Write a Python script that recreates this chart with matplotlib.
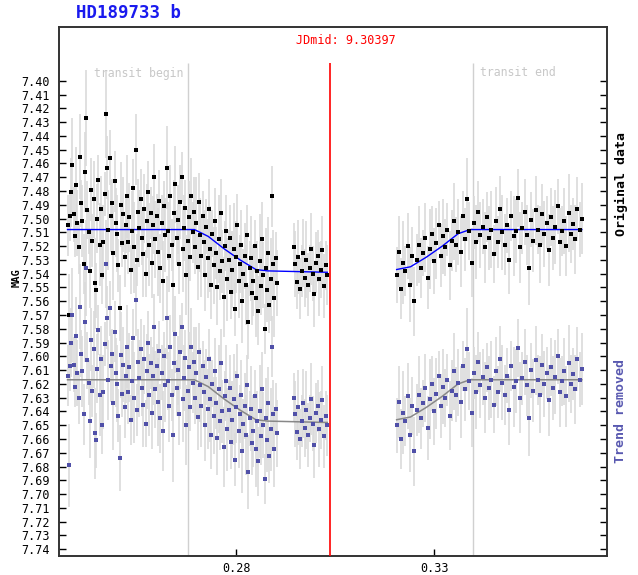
import numpy as np
import matplotlib
matplotlib.use("Agg")
import matplotlib.pyplot as plt

# ---------------- data ----------------
title = "HD189733 b"
jd_label = "JDmid: 9.30397"
x_transit_begin = 0.2678
x_mid = 0.3038
x_transit_end = 0.3398
trend_offset = 0.109   # vertical shift of the "Trend removed" copy

# observation segments (start, stop of phase)
seg1_range = (0.2375, 0.2903)
seg2_range = (0.2945, 0.3030)
seg3_range = (0.3205, 0.3672)

seg1_mag = [
    7.505, 7.570, 7.498, 7.481, 7.461, 7.497, 7.513, 7.476, 7.503, 7.521,
    7.455, 7.489, 7.502, 7.533, 7.466, 7.427, 7.494, 7.510, 7.538, 7.479,
    7.516, 7.486, 7.547, 7.552, 7.500, 7.472, 7.519, 7.493, 7.541, 7.517,
    7.482, 7.424, 7.463, 7.508, 7.456, 7.498, 7.489, 7.525, 7.473, 7.503,
    7.511, 7.534, 7.565, 7.490, 7.518, 7.497, 7.528, 7.505, 7.484, 7.517,
    7.499, 7.537, 7.509, 7.478, 7.521, 7.450, 7.530, 7.495, 7.507, 7.486,
    7.514, 7.526, 7.493, 7.540, 7.502, 7.481, 7.519, 7.496, 7.532, 7.505,
    7.470, 7.515, 7.498, 7.524, 7.487, 7.536, 7.503, 7.545, 7.491, 7.512,
    7.463, 7.509, 7.527, 7.484, 7.519, 7.548, 7.496, 7.475, 7.514, 7.501,
    7.533, 7.488, 7.470, 7.522, 7.507, 7.492, 7.541, 7.516, 7.499, 7.528,
    7.484, 7.510, 7.495, 7.521, 7.503, 7.535, 7.488, 7.512, 7.527, 7.498,
    7.517, 7.541, 7.506, 7.529, 7.493, 7.522, 7.548, 7.511, 7.534, 7.502,
    7.525, 7.550, 7.515, 7.538, 7.496, 7.531, 7.557, 7.520, 7.509, 7.544,
    7.530, 7.514, 7.553, 7.537, 7.522, 7.566, 7.528, 7.505, 7.545, 7.533,
    7.519, 7.560, 7.540, 7.527, 7.548, 7.512, 7.575, 7.536, 7.529, 7.554,
    7.545, 7.520, 7.558, 7.538, 7.567, 7.531, 7.549, 7.515, 7.541, 7.580,
    7.536, 7.552, 7.525, 7.563, 7.544, 7.484, 7.533, 7.558, 7.529, 7.547,
]
seg1_err_mmag = [
    22, 30, 18, 25, 34, 20, 15, 28, 24, 19, 31, 17, 26, 22, 29, 35, 21, 16, 27, 23,
    19, 28, 33, 20, 25, 18, 30, 24, 21, 27, 16, 32, 23, 29, 20, 26, 18, 34, 22, 25,
    28, 19, 24, 31, 17, 27, 22, 20, 30, 23, 25, 18, 29, 21, 33, 26, 19, 24, 28, 22,
    20, 31, 25, 17, 27, 23, 30, 19, 26, 21, 24, 28, 16, 32, 22, 25, 20, 29, 18, 27,
    30, 21, 26, 23, 19, 34, 24, 28, 20, 25, 22, 27, 18, 31, 24, 20, 29, 23, 26, 17,
    28, 22, 25, 19, 33, 24, 21, 27, 30, 18, 23, 26, 20, 29, 22, 31, 25, 17, 28, 24,
    19, 27, 32, 21, 25, 23, 29, 18, 26, 30, 22, 24, 20, 28, 33, 19, 26, 23, 27, 21,
    25, 30, 18, 24, 29, 22, 27, 20, 31, 23, 26, 19, 28, 22, 25, 34, 21, 27, 24, 18,
    29, 23, 26, 20, 30, 22, 25, 28, 19, 24,
]

seg2_mag = [
    7.521, 7.533, 7.546, 7.528, 7.551, 7.538, 7.525, 7.543, 7.530, 7.548, 7.536,
    7.522, 7.540, 7.555, 7.532, 7.527, 7.544, 7.537, 7.523, 7.549, 7.534, 7.541,
]
seg2_err_mmag = [18, 24, 20, 27, 22, 19, 25, 21, 28, 23, 17,
                 26, 20, 24, 22, 19, 27, 21, 25, 23, 18, 22]

seg3_mag = [
    7.541, 7.524, 7.551, 7.532, 7.538, 7.520, 7.548, 7.527, 7.560, 7.530,
    7.519, 7.536, 7.525, 7.514, 7.543, 7.522, 7.511, 7.531, 7.518, 7.505,
    7.527, 7.513, 7.521, 7.508, 7.534, 7.516, 7.502, 7.519, 7.510, 7.524,
    7.498, 7.515, 7.486, 7.509, 7.532, 7.503, 7.517, 7.495, 7.512, 7.506,
    7.521, 7.499, 7.514, 7.508, 7.526, 7.502, 7.517, 7.493, 7.510, 7.519,
    7.505, 7.530, 7.498, 7.513, 7.509, 7.485, 7.521, 7.507, 7.495, 7.512,
    7.536, 7.501, 7.516, 7.494, 7.508, 7.519, 7.497, 7.511, 7.503, 7.523,
    7.499, 7.514, 7.506, 7.491, 7.517, 7.509, 7.502, 7.520, 7.496, 7.511,
    7.504, 7.515, 7.493, 7.508, 7.500,
]
seg3_err_mmag = [
    20, 26, 22, 30, 18, 24, 27, 21, 25, 19, 28, 22, 17, 25, 23, 29, 20, 24, 26, 18,
    23, 27, 21, 19, 25, 22, 28, 20, 24, 26, 18, 23, 30, 21, 25, 19, 27, 22, 24, 20,
    26, 18, 23, 28, 21, 25, 19, 24, 27, 22, 20, 25, 18, 29, 23, 21, 26, 19, 24, 22,
    27, 20, 23, 25, 18, 28, 22, 24, 19, 26, 21, 23, 27, 20, 25, 18, 24, 22, 28, 21,
    19, 25, 23, 20, 26,
]

# fitted trend curve knots (original data)
trend_left_x = [0.2375, 0.2695, 0.2730, 0.2770, 0.2810, 0.2850, 0.2880, 0.3030]
trend_left_y = [7.508, 7.508, 7.513, 7.522, 7.530, 7.537, 7.538, 7.539]
trend_right_x = [0.3205, 0.3240, 0.3280, 0.3320, 0.3360, 0.3390, 0.3672]
trend_right_y = [7.537, 7.535, 7.528, 7.520, 7.511, 7.508, 7.508]

ytick_values = [round(7.40 + 0.01 * i, 2) for i in range(35)]
xtick_values = [0.28, 0.33]

# ---------------- assemble ----------------
xs, ys, es = [], [], []
for (a, b), m, e in [(seg1_range, seg1_mag, seg1_err_mmag),
                     (seg2_range, seg2_mag, seg2_err_mmag),
                     (seg3_range, seg3_mag, seg3_err_mmag)]:
    xs.append(np.linspace(a, b, len(m)))
    ys.append(np.array(m))
    es.append(np.array(e) / 1000.0)
x = np.concatenate(xs)
y = np.concatenate(ys)
err = np.concatenate(es)
y2 = y + trend_offset

mono = "DejaVu Sans Mono"
W, H = 638, 575
fig = plt.figure(figsize=(W / 100, H / 100), dpi=100)
ax = fig.add_axes([59 / W, 19 / H, 548 / W, 529 / H])

ax.set_xlim(0.23535, 0.37354)
ax.set_ylim(7.7449, 7.3610)

errc = "#dadada"
ax.vlines(x, y - err, y + err, color=errc, lw=1.2, zorder=1)
ax.vlines(x, y2 - err, y2 + err, color=errc, lw=1.2, zorder=1)

ax.plot(trend_left_x, trend_left_y, color="#0000ff", lw=1.0, zorder=2)
ax.plot(trend_right_x, trend_right_y, color="#0000ff", lw=1.0, zorder=2)
ax.plot(trend_left_x, np.array(trend_left_y) + trend_offset, color="#888888", lw=1.1, zorder=2)
ax.plot(trend_right_x, np.array(trend_right_y) + trend_offset, color="#888888", lw=1.1, zorder=2)

ax.plot(x, y, ls="none", marker="s", ms=3.0, mfc="black", mec="black", mew=0.0, zorder=3)
ax.plot(x, y2, ls="none", marker="s", ms=3.0, mfc="#5050a8", mec="#5050a8", mew=0.0, zorder=3)

# vertical markers
ytop_line = 7.387
ax.vlines([x_transit_begin, x_transit_end], 7.7449, ytop_line, color="#d0d0d0", lw=1.0, zorder=0)
ax.vlines([x_mid], 7.7449, ytop_line, color="#ff0000", lw=1.2, zorder=4)

fig.text(183 / W, 1 - 73 / H, "transit begin", ha="right", va="center",
         family=mono, fontsize=8.3, color="#c8c8c8")
fig.text(480 / W, 1 - 73 / H, "transit end", ha="left", va="center",
         family=mono, fontsize=8.3, color="#c8c8c8")
fig.text(346 / W, 1 - 40 / H, jd_label, ha="center", va="center",
         family=mono, fontsize=8.5, color="#ff0000")
fig.text(76 / W, 1 - 13 / H, title, ha="left", va="center",
         family=mono, fontsize=12.5, fontweight="bold", color="#1a1aee")
fig.text(621 / W, 1 - 184 / H, "Original data", ha="center", va="center", rotation=90,
         family=mono, fontsize=9.5, fontweight="bold", color="black")
fig.text(621 / W, 1 - 411 / H, "Trend removed", ha="center", va="center", rotation=90,
         family=mono, fontsize=9.5, fontweight="bold", color="#5858b0")
fig.text(17 / W, 1 - 278 / H, "MAG", ha="center", va="center", rotation=90,
         family=mono, fontsize=7.5, fontweight="bold", color="black")

ax.set_yticks(ytick_values)
ax.set_yticklabels([f"{v:.2f}" for v in ytick_values], family=mono, fontsize=8.5)
ax.set_xticks(xtick_values)
ax.set_xticklabels([f"{v:.2f}" for v in xtick_values], family=mono, fontsize=8.5)
ax.tick_params(axis="y", direction="in", length=5, width=1, right=True, left=True, pad=6.5)
ax.tick_params(axis="x", direction="in", length=5, width=1, top=False, pad=4)
ax.minorticks_off()

for s in ax.spines.values():
    s.set_color("#333333")
    s.set_linewidth(1.4)

fig.savefig("out.png", dpi=100)
